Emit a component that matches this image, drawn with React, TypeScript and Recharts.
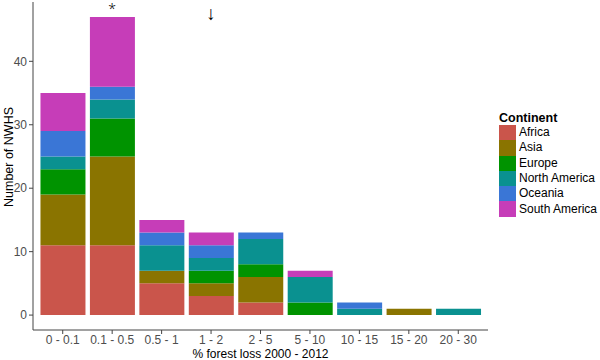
import React from "react";
import { BarChart, Bar, XAxis, YAxis, Legend, ReferenceDot } from "recharts";

const categories = ["0 - 0.1", "0.1 - 0.5", "0.5 - 1", "1 - 2", "2 - 5", "5 - 10", "10 - 15", "15 - 20", "20 - 30"];
const continents = ["Africa", "Asia", "Europe", "North America", "Oceania", "South America"];
const colors = ["#CA554B", "#8A7400", "#009300", "#0A9190", "#3A76D6", "#C63DB8"];
const africa = [11, 11, 5, 3, 2, 0, 0, 0, 0];
const asia = [8, 14, 2, 2, 4, 0, 0, 1, 0];
const europe = [4, 6, 0, 2, 2, 2, 0, 0, 0];
const northAmerica = [2, 3, 4, 2, 4, 4, 1, 0, 1];
const oceania = [4, 2, 2, 2, 1, 0, 1, 0, 0];
const southAmerica = [6, 11, 2, 2, 0, 1, 0, 0, 0];
const yTicks = [0, 10, 20, 30, 40];
const annotations = [
  { cat: "0.1 - 0.5", y: 48.2, text: "*", size: 14 },
  { cat: "1 - 2", y: 47.6, text: "↓", size: 19 },
];

const series = [africa, asia, europe, northAmerica, oceania, southAmerica];
const data = categories.map((c, i) => {
  const row: Record<string, any> = { cat: c };
  continents.forEach((k, j) => {
    row[k] = series[j][i];
  });
  return row;
});

const FONT = "'Liberation Sans', Arial, sans-serif";

const LegendBox = () => (
  <div style={{ fontFamily: FONT, fontSize: 12, color: "#000" }}>
    <div style={{ fontWeight: "bold", fontSize: 12.5, height: 13, lineHeight: "13px" }}>Continent</div>
    {continents.map((k, i) => (
      <div key={k} style={{ display: "flex", alignItems: "center", height: 15.3 }}>
        <div style={{ width: 17, height: 15.3, background: colors[i] }} />
        <span style={{ marginLeft: 3, lineHeight: "15px" }}>{k}</span>
      </div>
    ))}
  </div>
);

const YLabel = (props: any) => {
  const vb = props.viewBox || { x: 0, y: 0, width: 33, height: 328 };
  const x = vb.x + 9;
  const y = vb.y + vb.height / 2 - 9;
  return (
    <text
      x={x}
      y={y}
      transform={`rotate(-90 ${x} ${y})`}
      textAnchor="middle"
      dominantBaseline="central"
      fill="#000"
      fontSize={12.5}
      fontFamily={FONT}
    >
      Number of NWHS
    </text>
  );
};

export default function App() {
  return (
    <div style={{ position: "absolute", left: 0, top: 0, background: "#fff" }}>
      <BarChart
        width={600}
        height={360}
        data={data}
        margin={{ top: 2, right: 112, bottom: 0, left: 0 }}
        barCategoryGap="5%"
      >
        <XAxis
          dataKey="cat"
          height={30}
          padding={{ left: 5, right: 5 }}
          tick={{ fill: "#4d4d4d", fontSize: 12, fontFamily: FONT }}
          tickSize={4}
          tickMargin={1}
          axisLine={{ stroke: "#444" }}
          tickLine={{ stroke: "#444" }}
          label={{ value: "% forest loss 2000 - 2012", position: "insideBottom", offset: 2, fill: "#000", fontSize: 12, fontFamily: FONT }}
        />
        <YAxis
          width={33}
          domain={[-2.35, 49.35]}
          ticks={yTicks}
          allowDataOverflow
          tick={{ fill: "#4d4d4d", fontSize: 12, fontFamily: FONT }}
          tickSize={4}
          tickMargin={2}
          axisLine={{ stroke: "#444" }}
          tickLine={{ stroke: "#444" }}
          label={<YLabel />}
        />
        <Legend
          layout="vertical"
          align="center"
          verticalAlign="middle"
          wrapperStyle={{ left: 499, top: 112, width: 101 }}
          content={() => <LegendBox />}
        />
        {continents.map((k, i) => (
          <Bar key={k} dataKey={k} stackId="a" fill={colors[i]} isAnimationActive={false} />
        ))}
        {annotations.map((a) => (
          <ReferenceDot
            key={a.cat}
            x={a.cat}
            y={a.y}
            r={1}
            fill="none"
            stroke="none"
            ifOverflow="visible"
            label={{ value: a.text, position: "center", fill: "#000", fontSize: a.size, fontFamily: "'Noto Sans', 'Liberation Sans', sans-serif", fontWeight: 300 }}
          />
        ))}
      </BarChart>
    </div>
  );
}
